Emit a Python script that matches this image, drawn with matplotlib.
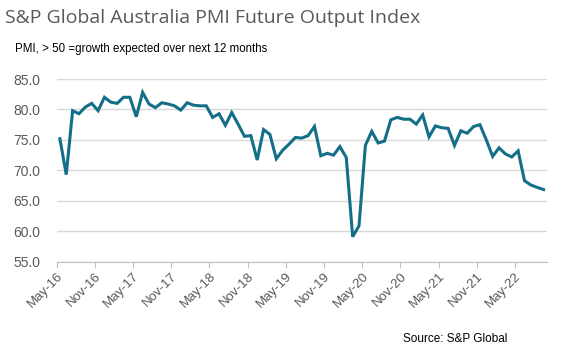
import matplotlib as mpl
mpl.use('Agg')
import matplotlib.pyplot as plt
import numpy as np

# monthly PMI future output index, May-16 .. Sep-22
values = [75.2, 69.3, 79.8, 79.3, 80.4, 81.0, 79.8, 82.0, 81.2, 81.0,
          82.0, 82.0, 78.8, 82.8, 80.9, 80.3, 81.1, 80.9, 80.6, 79.9,
          81.1, 80.7, 80.6, 80.6, 78.7, 79.3, 77.4, 79.5, 77.6, 75.6,
          75.7, 71.7, 76.7, 75.9, 71.9, 73.3, 74.3, 75.4, 75.3, 75.7,
          77.2, 72.4, 72.8, 72.5, 73.9, 72.1, 59.1, 60.9, 74.1, 76.4,
          74.5, 74.8, 78.3, 78.7, 78.4, 78.4, 77.6, 79.1, 75.5, 77.3,
          77.0, 76.9, 74.1, 76.5, 76.1, 77.2, 77.5, 75.0, 72.3, 73.7,
          72.7, 72.2, 73.2, 68.3, 67.6, 67.2, 66.85]
tick_labels = ['May-16', 'Nov-16', 'May-17', 'Nov-17', 'May-18', 'Nov-18', 'May-19',
               'Nov-19', 'May-20', 'Nov-20', 'May-21', 'Nov-21', 'May-22']
yticks = [55, 60, 65, 70, 75, 80, 85]

plt.rcParams['font.family'] = ['Liberation Sans', 'DejaVu Sans']
grey = '#595959'

fig = plt.figure(figsize=(5.62, 3.52), dpi=100)
ax = fig.add_axes([0.1009, 0.2565, 0.872, 0.519])

x = np.arange(len(values)) + 0.5
ax.plot(x, values, color='#136e87', lw=2.2, solid_joinstyle='miter')

ax.set_xlim(0, len(values))
ax.set_ylim(55, 85)
ax.set_yticks(yticks)
ax.set_yticklabels(['%.1f' % v for v in yticks], fontsize=10, color=grey)
ax.set_xticks(np.arange(len(tick_labels)) * 6)
ax.set_xticklabels(tick_labels, rotation=45, ha='right', rotation_mode='anchor',
                   fontsize=9.5, color=grey)
ax.tick_params(axis='y', length=0, pad=12)
ax.tick_params(axis='x', length=4, color='#bfbfbf', pad=2)
ax.grid(axis='y', color='#d9d9d9', lw=1)
ax.set_axisbelow(True)
for s in ['top', 'right', 'left']:
    ax.spines[s].set_visible(False)
ax.spines['bottom'].set_color('#bfbfbf')

fig.text(0.009, 0.95, 'S&P Global Australia PMI Future Output Index',
         fontsize=14, color=grey, family='Open Sans', va='center')
fig.text(0.027, 0.862, 'PMI, > 50 =growth expected over next 12 months',
         fontsize=8.3, color='black', va='center')
fig.text(0.903, 0.037, 'Source: S&P Global', fontsize=8.5, color='black',
         ha='right', va='center')

fig.savefig('out.png', dpi=100)
